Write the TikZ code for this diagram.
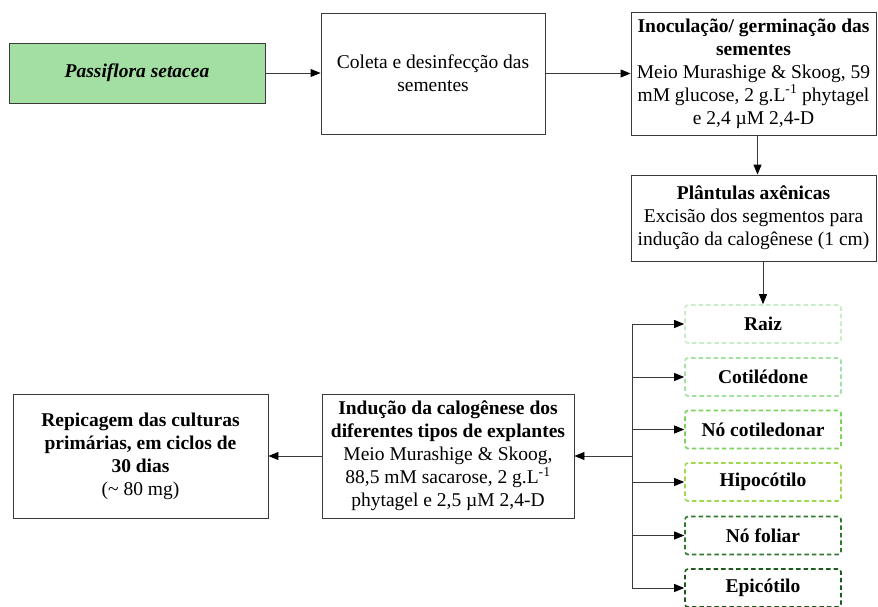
\documentclass[tikz,border=0pt]{standalone}
\usepackage{fontspec}
\setmainfont{Liberation Serif}[Ligatures=TeX]
\newfontfamily\tnr{Liberation Serif}
\usetikzlibrary{arrows.meta}
\definecolor{passfill}{HTML}{A3DFA3}
\definecolor{linegray}{HTML}{3A3A3A}
\definecolor{cRaiz}{HTML}{C8EEC8}
\definecolor{cCot}{HTML}{A3E2A3}
\definecolor{cNoCot}{HTML}{79D35E}
\definecolor{cHipo}{HTML}{9ED84E}
\definecolor{cNoFol}{HTML}{2F7A2F}
\definecolor{cEpi}{HTML}{1D5A1D}
\tikzset{
  box/.style={draw=linegray, line width=0.9pt, rectangle, align=center, inner sep=0pt,
    font=\tnr\fontsize{19.5}{23}\selectfont},
  dbox/.style={draw=#1, line width=1.6pt, dash pattern=on 4.5pt off 3pt, rounded corners=3pt,
    rectangle, minimum width=156pt, minimum height=38pt, inner sep=0pt,
    font=\tnr\fontsize{19.5}{23}\selectfont\bfseries},
  arr/.style={draw=linegray, line width=0.9pt, -{Triangle[length=10pt,width=8pt,color=black]}},
  ln/.style={draw=linegray, line width=0.9pt}
}
\begin{document}
\begin{tikzpicture}[x=1pt,y=-1pt]
\useasboundingbox (0,0) rectangle (878,606);
\node[box, fill=passfill, minimum width=256pt, minimum height=60pt] (pass) at (137,73)
  {\textbf{\textit{Passiflora setacea}}};
\node[box, minimum width=224pt, minimum height=121pt] (coleta) at (433,73.5)
  {Coleta e desinfecção das\\sementes};
\node[box, minimum width=245pt, minimum height=123pt] (inoc) at (753.5,73.5)
  {\textbf{Inoculação/ germinação das}\\\textbf{sementes}\\Meio Murashige \& Skoog, 59\\mM glucose, 2 g.L\textsuperscript{-1} phytagel\\e 2,4 µM 2,4-D};
\node[box, minimum width=245pt, minimum height=86pt] (plant) at (753.5,218)
  {\textbf{Plântulas axênicas}\\Excisão dos segmentos para\\indução da calogênese (1 cm)};
\node[dbox=cRaiz] (raiz) at (763,324) {Raiz};
\node[dbox=cCot] (cot) at (763,377) {Cotilédone};
\node[dbox=cNoCot] (nocot) at (763,429.5) {Nó cotiledonar};
\node[dbox=cHipo] (hipo) at (763,482) {Hipocótilo};
\node[dbox=cNoFol] (nofol) at (763,535.5) {Nó foliar};
\node[dbox=cEpi] (epi) at (763,588) {Epicótilo};
\node[box, minimum width=252pt, minimum height=124pt] (induc) at (448,456)
  {\textbf{Indução da calogênese dos}\\\textbf{diferentes tipos de explantes}\\Meio Murashige \& Skoog,\\88,5 mM sacarose, 2 g.L\textsuperscript{-1}\\phytagel e 2,5 µM 2,4-D};
\node[box, minimum width=255pt, minimum height=124pt] (repic) at (140.5,456)
  {\textbf{Repicagem das culturas}\\\textbf{primárias, em ciclos de}\\\textbf{30 dias}\\(\textasciitilde\ 80 mg)};
\draw[arr] (pass.east) -- (pass.east -| coleta.west);
\draw[arr] (coleta.east |- inoc.west) -- (inoc.west);
\draw[arr] ([xshift=4pt]inoc.south) -- ([xshift=4pt]plant.north);
\draw[arr] (raiz.north |- plant.south) -- (raiz.north);
\coordinate (tr) at (632,456);
\draw[ln] (tr |- raiz.west) -- (tr |- epi.west);
\foreach \n in {raiz,cot,nocot,hipo,nofol,epi}
  \draw[arr] (tr |- \n.west) -- (\n.west);
\draw[arr] (tr) -- (induc.east);
\draw[arr] (induc.west) -- (repic.east);
\end{tikzpicture}
\end{document}
